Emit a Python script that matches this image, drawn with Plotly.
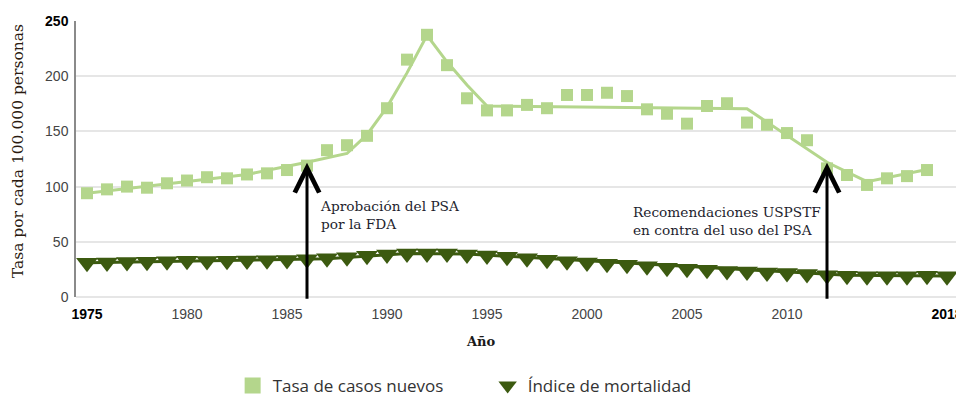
import plotly.graph_objects as go

# ---------------- data ----------------
years_inc = list(range(1975, 2018))
tasa_casos_nuevos = [94, 97.5, 100, 99, 103, 105.5, 108.5, 107.5, 111, 112,
                     115, 119, 133, 137.5, 146, 171, 215, 237.5, 210, 180,
                     169, 169, 174, 171, 183, 183, 185, 182, 170, 166,
                     157, 173, 175.5, 158, 156, 148.5, 142, 116.5, 110.5, 101.5,
                     107.5, 109.5, 115]

years_mort = list(range(1975, 2019))
indice_mortalidad = [31.0, 31.3, 31.6, 32.0, 32.3, 32.8, 32.6, 32.9, 33.1, 33.3,
                     33.6, 34.3, 35.2, 36.0, 37.4, 38.6, 39.3, 39.4, 39.3, 38.6,
                     37.6, 36.4, 35.0, 33.8, 32.3, 31.3, 30.2, 29.1, 27.8, 26.6,
                     25.6, 24.6, 23.6, 23.0, 22.1, 21.8, 20.8, 19.6, 19.2, 18.8,
                     18.9, 18.9, 19.2, 18.9]

# joinpoint trend lines
trend_inc_years = [1975, 1979, 1983, 1986, 1988, 1989, 1990, 1991, 1992, 1993, 1994, 1995, 2008, 2012, 2014, 2017]
trend_inc_vals = [94, 102.5, 111, 122, 130, 147, 172, 203, 237, 213, 192, 173, 170.5, 122, 104.5, 115.5]

trend_mort_years = [1975, 1987, 1991, 1994, 2013, 2018]
trend_mort_vals = [31.0, 34.7, 39.3, 38.9, 19.6, 19.0]

# events
event_years = [1986, 2012]
event_tip = [121.5, 121.5]
event_labels = ["Aprobación del PSA<br>por la FDA",
                "Recomendaciones USPSTF<br>en contra del uso del PSA"]
event_label_x = [1986.55, 2002.2]
event_label_y = [74, 69]

x_ticks = [1975, 1980, 1985, 1990, 1995, 2000, 2005, 2010, 2018]
x_ticktext = ["<b><span style='color:#000'>1975</span></b>", "1980", "1985", "1990", "1995",
              "2000", "2005", "2010", "<b><span style='color:#000'>2018</span></b>"]
y_ticks = [0, 50, 100, 150, 200, 250]
y_ticktext = ["0", "50", "100", "150", "200", "<b><span style='color:#000'>250</span></b>"]

LIGHT = "#b4d68c"
DARK = "#3c5a10"
SERIF = "DejaVu Serif"
SANS = "Liberation Sans, Arial, sans-serif"

fig = go.Figure()

fig.add_trace(go.Scatter(x=trend_inc_years, y=trend_inc_vals, mode="lines",
                         line=dict(color=LIGHT, width=3), showlegend=False, hoverinfo="skip"))
fig.add_trace(go.Scatter(x=trend_mort_years, y=trend_mort_vals, mode="lines",
                         line=dict(color=DARK, width=3), showlegend=False, hoverinfo="skip"))
fig.add_trace(go.Scatter(x=years_inc, y=tasa_casos_nuevos, mode="markers",
                         marker=dict(symbol="square", size=12, color=LIGHT),
                         showlegend=False))
fig.add_trace(go.Scatter(x=years_mort, y=indice_mortalidad, mode="markers",
                         marker=dict(symbol="triangle-down", size=19, color=DARK),
                         showlegend=False))
# legend entries
fig.add_trace(go.Scatter(x=[None], y=[None], mode="markers", name="Tasa de casos nuevos",
                         marker=dict(symbol="square", size=16, color=LIGHT)))
fig.add_trace(go.Scatter(x=[None], y=[None], mode="markers", name="Índice de mortalidad",
                         marker=dict(symbol="triangle-down", size=16, color=DARK)))

annotations = []
for xe, tip in zip(event_years, event_tip):
    annotations.append(dict(x=xe, y=tip, xref="x", yref="y", ax=xe, ay=-3,
                            axref="x", ayref="y", text="", showarrow=True,
                            arrowhead=5, arrowsize=1.6, arrowwidth=3, arrowcolor="#000"))
for txt, lx, ly in zip(event_labels, event_label_x, event_label_y):
    annotations.append(dict(x=lx, y=ly, xref="x", yref="y", text=txt, showarrow=False,
                            xanchor="left", yanchor="middle", align="left",
                            font=dict(family=SERIF, size=13.7, color="#1e1e2e")))
annotations.append(dict(x=-0.0665, y=0.53, xref="paper", yref="paper",
                        text="Tasa por cada 100.000 personas", textangle=-90,
                        showarrow=False, xanchor="center", yanchor="middle",
                        font=dict(family=SERIF, size=15.5, color="#2a1a10")))
annotations.append(dict(x=0.46, y=-0.163, xref="paper", yref="paper",
                        text="<b>Año</b>", showarrow=False, xanchor="center", yanchor="middle",
                        font=dict(family=SERIF, size=13, color="#1a1a1a")))

# the page body has an 8px margin: the figure sits 8px in, so its size and margins
# are chosen to keep the plot area where the reference has it without scrollbars
fig.update_layout(
    width=956, height=390,
    margin=dict(l=68, r=8, t=13, b=101, autoexpand=False),
    paper_bgcolor="white", plot_bgcolor="white",
    font=dict(family=SANS, size=14, color="#444"),
    xaxis=dict(range=[1974.45, 2018.45], tickvals=x_ticks, ticktext=x_ticktext,
               showgrid=False, zeroline=False, showline=False, automargin=False,
               ticks="outside", ticklen=4, tickcolor="rgba(0,0,0,0)",
               tickfont=dict(family=SANS, size=14, color="#444")),
    yaxis=dict(range=[0, 250], tickvals=y_ticks, ticktext=y_ticktext, automargin=False,
               showgrid=True, gridcolor="#e6e6e6", gridwidth=2,
               zeroline=True, zerolinecolor="#e6e6e6", zerolinewidth=2,
               showline=True, linecolor="#8a8a8a", linewidth=1.5,
               ticks="outside", ticklen=3, tickcolor="rgba(0,0,0,0)",
               tickfont=dict(family=SANS, size=14, color="#444")),
    legend=dict(orientation="h", x=0.178, xanchor="left", y=-0.3225, yanchor="middle",
                font=dict(family="Open Sans, sans-serif", size=17, color="#333"),
                itemwidth=30, entrywidth=210, bgcolor="rgba(0,0,0,0)"),
    annotations=annotations,
)

fig.write_html("out.html")
